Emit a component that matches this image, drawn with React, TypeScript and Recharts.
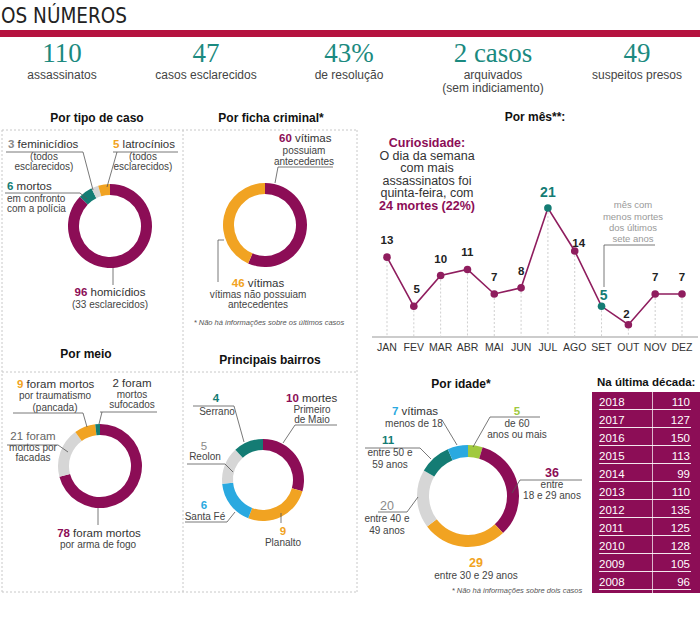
import React from "react";
import { PieChart, Pie, Cell, LineChart, Line, XAxis, YAxis, LabelList } from "recharts";

const FONT = "'Liberation Sans', Arial, Helvetica, sans-serif";
const NARROW = "'Liberation Sans Narrow', 'DejaVu Sans Condensed', sans-serif";
const SERIF = "'Liberation Serif', 'DejaVu Serif', serif";

const PURPLE = "#8c0d56";
const LINE_PURPLE = "#8f1d5e";
const TEAL = "#147c74";
const ORANGE = "#f1a322";
const GRAY = "#d6d6d6";
const GRAY_TXT = "#8a8a8a";
const BLUE = "#2aa9e0";
const GREEN = "#a0c93e";
const RED = "#b5133f";
const STAT_TEAL = "#1b8a80";
const DARK = "#333";

// resumo
const statNumbers = ["110", "47", "43%", "2 casos", "49"];
const statLabels = [["assassinatos"], ["casos esclarecidos"], ["de resolução"], ["arquivados", "(sem indiciamento)"], ["suspeitos presos"]];
const STAT_X = [62, 206, 349, 493, 637];

// donuts
const tipoNames = ["homicídios", "mortos em confronto", "feminicídios", "latrocínios"];
const tipoValues = [96, 6, 3, 5];
const fichaNames = ["possuíam antecedentes", "não possuíam antecedentes"];
const fichaValues = [60, 46];
const meioNames = ["arma de fogo", "facadas", "traumatismo", "sufocados"];
const meioValues = [78, 21, 9, 2];
const bairroNames = ["Primeiro de Maio", "Planalto", "Santa Fé", "Reolon", "Serrano"];
const bairroValues = [10, 9, 6, 5, 4];
const idadeNames = ["60 anos ou mais", "18 a 29", "30 a 39", "40 a 49", "50 a 59", "menos de 18"];
const idadeValues = [5, 36, 29, 20, 11, 7];

// por mês
const months = ["JAN", "FEV", "MAR", "ABR", "MAI", "JUN", "JUL", "AGO", "SET", "OUT", "NOV", "DEZ"];
const monthValues = [13, 5, 10, 11, 7, 8, 21, 14, 5, 2, 7, 7];
const highlightMonths = ["JUL", "SET"];

// década
const years = ["2018", "2017", "2016", "2015", "2014", "2013", "2012", "2011", "2010", "2009", "2008"];
const yearValues = [110, 127, 150, 113, 99, 110, 135, 125, 128, 105, 96];

function Donut({ names, values, colors, cx, cy, r, inner }: any) {
  const data = names.map((name: string, i: number) => ({ name, value: values[i] }));
  const size = r * 2 + 6;
  return (
    <div style={{ position: "absolute", left: cx - size / 2, top: cy - size / 2 }}>
      <PieChart width={size} height={size} margin={{ top: 0, right: 0, bottom: 0, left: 0 }}>
        <Pie
          data={data}
          dataKey="value"
          cx="50%"
          cy="50%"
          innerRadius={inner}
          outerRadius={r}
          startAngle={90}
          endAngle={-270}
          stroke="none"
          isAnimationActive={false}
        >
          {data.map((d: any, i: number) => (
            <Cell key={d.name} fill={colors[i]} />
          ))}
        </Pie>
      </PieChart>
    </div>
  );
}

const monthData = months.map((m, i) => ({ month: m, value: monthValues[i] }));
const PLOT_BOTTOM = 237;

const MonthDot = (props: any) => {
  const { cx, cy, payload, index } = props;
  const hi = highlightMonths.includes(payload.month);
  return (
    <g key={"dot" + index}>
      <line x1={cx} x2={cx} y1={cy + 4} y2={PLOT_BOTTOM} stroke="#cfcfcf" strokeDasharray="2 2" />
      <circle cx={cx} cy={cy} r={3.8} fill={hi ? TEAL : LINE_PURPLE} />
    </g>
  );
};

const MonthLabel = (props: any) => {
  const { x, y, value, index } = props;
  const m = months[index];
  const hi = highlightMonths.includes(m);
  let dx = 0;
  let dy = hi ? -11 : -13;
  if (m === "FEV") dx = 3;
  if (m === "AGO") { dx = 4; dy = -4; }
  if (m === "SET") { dx = 2; dy = -6; }
  if (m === "OUT") { dx = -2; dy = -7; }
  return (
    <text x={x + dx} y={y + dy} textAnchor="middle" fontSize={hi ? 14 : 11.5} fontWeight={700} fill={hi ? TEAL : "#222"} fontFamily={FONT}>
      {value}
    </text>
  );
};

const T = ({ x, y, size = 11.5, color = DARK, weight = 400, anchor = "start", italic = false, children }: any) => (
  <text x={x} y={y} fontSize={size} fill={color} fontWeight={weight} textAnchor={anchor} fontStyle={italic ? "italic" : "normal"} fontFamily={FONT}>
    {children}
  </text>
);

const L = ({ d }: any) => <path d={d} fill="none" stroke="#555" strokeWidth={0.8} />;

export default function App() {
  return (
    <div style={{ position: "absolute", left: 0, top: 0, width: 700, height: 625, background: "#fff", overflow: "hidden", fontFamily: FONT }}>
      <Donut names={tipoNames} values={tipoValues} colors={[PURPLE, TEAL, GRAY, ORANGE]} cx={110} cy={226} r={42} inner={31} />
      <Donut names={fichaNames} values={fichaValues} colors={[PURPLE, ORANGE]} cx={265} cy={225} r={42} inner={31} />
      <Donut names={meioNames} values={meioValues} colors={[PURPLE, GRAY, ORANGE, TEAL]} cx={100} cy={466} r={42} inner={31} />
      <Donut names={bairroNames} values={bairroValues} colors={[PURPLE, ORANGE, BLUE, GRAY, TEAL]} cx={263} cy={480} r={41} inner={30} />
      <Donut names={idadeNames} values={idadeValues} colors={[GREEN, PURPLE, ORANGE, GRAY, TEAL, BLUE]} cx={468} cy={496} r={51} inner={39} />

      <div style={{ position: "absolute", left: 360, top: 100 }}>
        <LineChart width={340} height={262} data={monthData} margin={{ top: 108, right: 2, left: 12, bottom: 0 }}>
          <XAxis
            dataKey="month"
            scale="point"
            padding={{ left: 15, right: 16 }}
            axisLine={{ stroke: "#999" }}
            tickLine={false}
            tickSize={5}
            interval={0}
            height={25}
            tick={{ fontSize: 10.5, fill: "#333", fontFamily: FONT }}
          />
          <YAxis hide domain={[0, 21]} />
          <Line dataKey="value" stroke={LINE_PURPLE} strokeWidth={1.6} dot={MonthDot} activeDot={false} isAnimationActive={false}>
            <LabelList dataKey="value" content={MonthLabel} />
          </Line>
        </LineChart>
      </div>

      <div style={{ position: "absolute", left: 592, top: 392, width: 108, height: 201, background: PURPLE }}>
        <div style={{ position: "absolute", left: 60, top: 0, width: 1, height: 201, background: "rgba(255,255,255,0.7)" }} />
        {years.map((yr, i) => (
          <div key={yr} style={{ position: "absolute", left: 0, top: 1 + i * 18, width: 108, height: 18, lineHeight: "18px", fontSize: 11.5, color: "#fff" }}>
            <span style={{ position: "absolute", left: 7 }}>{yr}</span>
            <span style={{ position: "absolute", right: 10 }}>{yearValues[i]}</span>
            <div style={{ position: "absolute", left: 7, right: 9, top: 16, height: 1, background: "rgba(255,255,255,0.9)" }} />
          </div>
        ))}
      </div>

      <svg width={700} height={625} style={{ position: "absolute", left: 0, top: 0, pointerEvents: "none" }}>
        <text x={1} y={23} fontSize={22} fontFamily={NARROW} textLength={126} lengthAdjust="spacingAndGlyphs" fill="#222">
          OS NÚMEROS
        </text>
        <rect x={0} y={30} width={700} height={7} fill={RED} />

        {statNumbers.map((n, i) => (
          <g key={n}>
            <text x={STAT_X[i]} y={62} textAnchor="middle" fontSize={27} fill={STAT_TEAL} fontFamily={SERIF}>
              {n}
            </text>
            {statLabels[i].map((l, j) => (
              <T key={l} x={STAT_X[i]} y={79 + j * 12.5} size={12} color="#444" anchor="middle">
                {l}
              </T>
            ))}
          </g>
        ))}

        {/* caixas tracejadas */}
        <g stroke="#c8c8c8" strokeDasharray="2 2" strokeWidth={1}>
          <line x1={2} x2={357} y1={130} y2={130} />
          <line x1={2} x2={357} y1={372} y2={372} />
          <line x1={2} x2={357} y1={592} y2={592} />
          <line x1={2} x2={2} y1={130} y2={592} />
          <line x1={183} x2={183} y1={130} y2={592} />
          <line x1={357} x2={357} y1={130} y2={592} />
        </g>

        {/* Por tipo de caso */}
        <T x={97} y={122} size={12} weight={700} color="#111" anchor="middle">Por tipo de caso</T>
        <T x={8} y={148}><tspan fill={GRAY_TXT} fontWeight={700}>3</tspan> feminicídios</T>
        <T x={44} y={160} size={10} color="#444" anchor="middle">(todos</T>
        <T x={44} y={170} size={10} color="#444" anchor="middle">esclarecidos)</T>
        <L d="M6,152 L83,152 L93,190" />
        <T x={113} y={148}><tspan fill={ORANGE} fontWeight={700}>5</tspan> latrocínios</T>
        <T x={143} y={160} size={10} color="#444" anchor="middle">(todos</T>
        <T x={143} y={170} size={10} color="#444" anchor="middle">esclarecidos)</T>
        <L d="M178,152 L113,152 M117,152 L107,187" />
        <T x={7} y={190}><tspan fill={TEAL} fontWeight={700}>6</tspan> mortos</T>
        <T x={7} y={202} size={10} color="#444">em confronto</T>
        <T x={7} y={212} size={10} color="#444">com a polícia</T>
        <L d="M5,193 L80,193 L87,199" />
        <L d="M113,268 L113,285" />
        <T x={110} y={296} anchor="middle"><tspan fill={PURPLE} fontWeight={700}>96</tspan> homicídios</T>
        <T x={110} y={308} size={10} color="#444" anchor="middle">(33 esclarecidos)</T>

        {/* Por ficha criminal */}
        <T x={271} y={122} size={12} weight={700} color="#111" anchor="middle">Por ficha criminal*</T>
        <T x={279} y={142}><tspan fill={PURPLE} fontWeight={700}>60</tspan> vítimas</T>
        <T x={304} y={154} size={10} color="#444" anchor="middle">possuiam</T>
        <T x={304} y={165} size={10} color="#444" anchor="middle">antecedentes</T>
        <L d="M333,167 L278,167 L275,183" />
        <L d="M224,240 L218,240 L218,282" />
        <T x={258} y={287} anchor="middle"><tspan fill={ORANGE} fontWeight={700}>46</tspan> vítimas</T>
        <T x={258} y={298} size={10} color="#444" anchor="middle">vítimas não possuiam</T>
        <T x={258} y={308} size={10} color="#444" anchor="middle">antecedentes</T>
        <T x={269} y={325} size={7.5} color="#555" anchor="middle" italic>* Não há informações sobre os últimos casos</T>

        {/* Por meio */}
        <T x={86} y={358} size={12} weight={700} color="#111" anchor="middle">Por meio</T>
        <T x={17} y={388}><tspan fill={ORANGE} fontWeight={700}>9</tspan> foram mortos</T>
        <T x={55} y={399} size={10} color="#444" anchor="middle">por traumatismo</T>
        <T x={55} y={411} size={10} color="#444" anchor="middle">(pancada)</T>
        <L d="M13,413 L83,413 L87,427" />
        <T x={132} y={387} anchor="middle">2 foram</T>
        <T x={132} y={398} size={10} color="#444" anchor="middle">mortos</T>
        <T x={132} y={408} size={10} color="#444" anchor="middle">sufocados</T>
        <L d="M157,412 L100,412 M102,412 L99,424" />
        <T x={33} y={440} color="#666" anchor="middle">21 foram</T>
        <T x={33} y={451} size={10} color="#444" anchor="middle">mortos por</T>
        <T x={33} y={461} size={10} color="#444" anchor="middle">facadas</T>
        <L d="M7,445 L58,445 L68,452" />
        <L d="M98,508 L98,525" />
        <T x={99} y={537} anchor="middle"><tspan fill={PURPLE} fontWeight={700}>78</tspan> foram mortos</T>
        <T x={98} y={548} size={10} color="#444" anchor="middle">por arma de fogo</T>

        {/* Principais bairros */}
        <T x={270} y={364} size={12} weight={700} color="#111" anchor="middle">Principais bairros</T>
        <T x={216} y={402} anchor="middle" weight={700} color={TEAL}>4</T>
        <T x={217} y={415} size={10} color="#444" anchor="middle">Serrano</T>
        <L d="M193,406 L234,406 L244,442" />
        <T x={286} y={402}><tspan fill={PURPLE} fontWeight={700}>10</tspan> mortes</T>
        <T x={312} y={413} size={10} color="#444" anchor="middle">Primeiro</T>
        <T x={312} y={423} size={10} color="#444" anchor="middle">de Maio</T>
        <L d="M337,425 L295,425 L283,443" />
        <T x={204} y={450} anchor="middle" color={GRAY_TXT}>5</T>
        <T x={205} y={460} size={10} color="#444" anchor="middle">Reolon</T>
        <L d="M187,464 L225,464 L233,472" />
        <T x={204} y={509} anchor="middle" weight={700} color={BLUE}>6</T>
        <T x={205} y={520} size={10} color="#444" anchor="middle">Santa Fé</T>
        <L d="M185,522 L227,522 L235,512" />
        <L d="M281,513 L281,523" />
        <T x={283} y={535} anchor="middle" weight={700} color={ORANGE}>9</T>
        <T x={283} y={546} size={10} color="#444" anchor="middle">Planalto</T>

        {/* Por mês */}
        <T x={535} y={121} size={12} weight={700} color="#111" anchor="middle">Por mês**:</T>
        <T x={427} y={147} size={12.5} weight={700} color={PURPLE} anchor="middle">Curiosidade:</T>
        <T x={427} y={159.5} size={12.5} anchor="middle">O dia da semana</T>
        <T x={427} y={172} size={12.5} anchor="middle">com mais</T>
        <T x={427} y={184.5} size={12.5} anchor="middle">assassinatos foi</T>
        <T x={427} y={197} size={12.5} anchor="middle">quinta-feira, com</T>
        <T x={427} y={209.5} size={12.5} weight={700} color={PURPLE} anchor="middle">24 mortes (22%)</T>
        <T x={633} y={208} size={9.5} color="#999" anchor="middle">mês com</T>
        <T x={633} y={219.5} size={9.5} color="#999" anchor="middle">menos mortes</T>
        <T x={633} y={231} size={9.5} color="#999" anchor="middle">dos últimos</T>
        <T x={633} y={242} size={9.5} color="#999" anchor="middle">sete anos</T>
        <L d="M655,245 L604,245 L604,287" />

        {/* Por idade */}
        <T x={461} y={388} size={12} weight={700} color="#111" anchor="middle">Por idade*</T>
        <T x={392} y={415}><tspan fill={BLUE} fontWeight={700}>7</tspan> vítimas</T>
        <T x={414} y={427} size={10} color="#444" anchor="middle">menos de 18</T>
        <L d="M442,420 L457,445" />
        <T x={517} y={415} anchor="middle" weight={700} color={GREEN}>5</T>
        <T x={517} y={427} size={10} color="#444" anchor="middle">de 60</T>
        <T x={517} y={438} size={10} color="#444" anchor="middle">anos ou mais</T>
        <L d="M540,417 L490,417 L473,447" />
        <T x={388} y={444} anchor="middle" weight={700} color={TEAL}>11</T>
        <T x={390} y={456} size={10} color="#444" anchor="middle">entre 50 e</T>
        <T x={390} y={468} size={10} color="#444" anchor="middle">59 anos</T>
        <L d="M365,448 L420,448 L431,459" />
        <T x={552} y={477} anchor="middle" weight={700} color={PURPLE} size={12.5}>36</T>
        <T x={552} y={488} size={10} color="#444" anchor="middle">entre</T>
        <T x={552} y={499} size={10} color="#444" anchor="middle">18 e 29 anos</T>
        <L d="M582,480 L520,480 L512,493" />
        <T x={387} y={510} anchor="middle" color={GRAY_TXT} size={12.5}>20</T>
        <T x={387} y={522} size={10} color="#444" anchor="middle">entre 40 e</T>
        <T x={387} y={534} size={10} color="#444" anchor="middle">49 anos</T>
        <L d="M378,512 L407,512 L418,497" />
        <T x={476} y={567} anchor="middle" weight={700} color={ORANGE} size={12.5}>29</T>
        <T x={476} y={579} size={10} color="#444" anchor="middle">entre 30 e 29 anos</T>
        <T x={517} y={593} size={7.5} color="#555" anchor="middle" italic>* Não há informações sobre dois casos</T>

        {/* Na última década */}
        <T x={597} y={386} size={11.5} weight={700} color="#111">Na última década:</T>
      </svg>
    </div>
  );
}
